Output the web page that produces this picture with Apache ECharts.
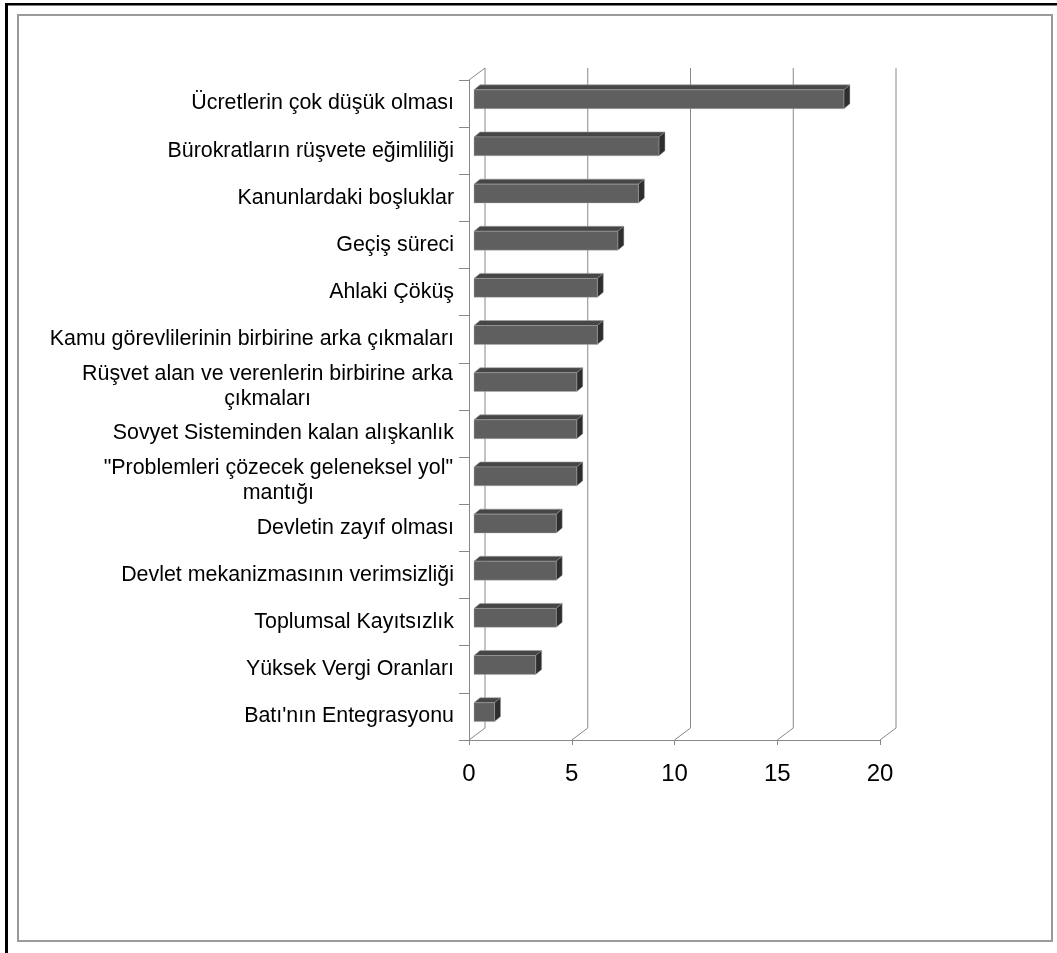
<!DOCTYPE html>
<html>
<head>
<meta charset="utf-8">
<script src="https://cdn.jsdelivr.net/npm/echarts@6/dist/echarts.min.js"></script>
<style>
  html, body { margin: 0; padding: 0; background: #fff; }
  #chart { width: 1057px; height: 953px; }
</style>
</head>
<body>
<div id="chart"></div>
<script>
// ---- data ----
const categories = [
  "Ücretlerin çok düşük olması",
  "Bürokratların rüşvete eğimliliği",
  "Kanunlardaki boşluklar",
  "Geçiş süreci",
  "Ahlaki Çöküş",
  "Kamu görevlilerinin birbirine arka çıkmaları",
  "Rüşvet alan ve verenlerin birbirine arka\nçıkmaları",
  "Sovyet Sisteminden kalan alışkanlık",
  "\"Problemleri çözecek geleneksel yol\"\nmantığı",
  "Devletin zayıf olması",
  "Devlet mekanizmasının verimsizliği",
  "Toplumsal Kayıtsızlık",
  "Yüksek Vergi Oranları",
  "Batı'nın Entegrasyonu"
];
const values = [18, 9, 8, 7, 6, 6, 5, 5, 5, 4, 4, 4, 3, 1];
const xTicks = [0, 5, 10, 15, 20];

// ---- styling / helpers ----
const FONT = '"Liberation Sans", Arial, sans-serif';
const LABEL_SIZE = 21.4;
const GRID_COLOR = '#888888';
const DEPTH_X = 16, DEPTH_Y = -12;   // oblique 3D wall depth

const measureCtx = document.createElement('canvas').getContext('2d');
measureCtx.font = LABEL_SIZE + 'px "Liberation Sans", Arial';
const rich = {};
const labelTexts = categories.map((c, idx) => {
  if (c.indexOf('\n') < 0) return c;
  const lines = c.split('\n');
  const w = Math.max(...lines.map(l => measureCtx.measureText(l).width)) + 2;
  const key = 'm' + idx;
  rich[key] = { width: w, align: 'center', fontSize: LABEL_SIZE, fontFamily: FONT, color: '#000', lineHeight: 25 };
  return lines.map(l => '{' + key + '|' + l + '}').join('\n');
});

const chart = echarts.init(document.getElementById('chart'), null, { renderer: 'canvas' });

function line(x1, y1, x2, y2) {
  return { type: 'line', shape: { x1, y1, x2, y2 }, style: { stroke: GRID_COLOR, lineWidth: 1 } };
}

const option = {
  backgroundColor: '#ffffff',
  animation: false,
  graphic: [
    { type: 'rect', shape: { x: 5, y: 3, width: 1052, height: 2.5 }, style: { fill: '#000' }, z: 100 },
    { type: 'rect', shape: { x: 5, y: 3, width: 3, height: 950 }, style: { fill: '#000' }, z: 100 },
    { type: 'rect', shape: { x: 18, y: 15, width: 1034, height: 926 }, style: { fill: 'none', stroke: '#9a9a9a', lineWidth: 2 }, z: 100 }
  ],
  grid: { left: 469, right: 177, top: 80, bottom: 213, containLabel: false },
  xAxis: {
    type: 'value', min: 0, max: 20, interval: 5,
    axisLine: { show: true, lineStyle: { color: GRID_COLOR, width: 1 } },
    axisTick: { show: true, length: 5, lineStyle: { color: GRID_COLOR } },
    splitLine: { show: false },
    axisLabel: { fontSize: 24, fontFamily: FONT, color: '#000', margin: 22 }
  },
  yAxis: {
    type: 'category', data: categories, inverse: true,
    axisLine: { show: true, lineStyle: { color: GRID_COLOR, width: 1 } },
    axisTick: { show: true, length: 10, lineStyle: { color: GRID_COLOR } },
    splitLine: { show: false },
    axisLabel: {
      fontSize: LABEL_SIZE, fontFamily: FONT, color: '#000', margin: 15, lineHeight: 25,
      formatter: (val, idx) => labelTexts[idx],
      rich: rich
    }
  },
  series: [
    {
      type: 'custom', name: 'walls', z: 1,
      data: xTicks.map(v => [v, 0]),
      encode: { x: 0, y: 1 },
      renderItem: (params, api) => {
        const v = api.value(0);
        const cs = params.coordSys;
        const x = api.coord([v, 0])[0];
        const top = cs.y, bottom = cs.y + cs.height;
        const children = [
          line(x + DEPTH_X, top + DEPTH_Y, x + DEPTH_X, bottom + DEPTH_Y),
          line(x, bottom, x + DEPTH_X, bottom + DEPTH_Y)
        ];
        if (v === xTicks[0]) children.push(line(x, top, x + DEPTH_X, top + DEPTH_Y));
        return { type: 'group', children };
      }
    },
    {
      type: 'custom', name: 'bars', z: 5,
      data: values.map((v, i) => [v, i]),
      encode: { x: 0, y: 1 },
      renderItem: (params, api) => {
        const v = api.value(0), i = api.value(1);
        const p0 = api.coord([0, i]);
        const p1 = api.coord([v, i]);
        const band = api.size([0, 1])[1];
        const h = band * 0.4;
        const dx = 5, dy = -4.3, sx = 6, sy = -5;
        const x0 = p0[0] + dx, x1 = p1[0] + dx;
        const yc = p0[1] + dy;
        const yt = yc - h / 2, yb = yc + h / 2;
        return {
          type: 'group',
          children: [
            { type: 'polygon', shape: { points: [[x0, yt], [x1, yt], [x1 + sx, yt + sy], [x0 + sx, yt + sy]] },
              style: { fill: '#464646', stroke: '#a0a0a0', lineWidth: 0.6 } },
            { type: 'polygon', shape: { points: [[x1, yt], [x1 + sx, yt + sy], [x1 + sx, yb + sy], [x1, yb]] },
              style: { fill: '#2e2e2e', stroke: '#a0a0a0', lineWidth: 0.4 } },
            { type: 'rect', shape: { x: x0, y: yt, width: x1 - x0, height: h },
              style: { fill: '#5f5f5f', stroke: '#b0b0b0', lineWidth: 0.4 } }
          ]
        };
      }
    }
  ]
};
chart.setOption(option);
</script>
</body>
</html>
